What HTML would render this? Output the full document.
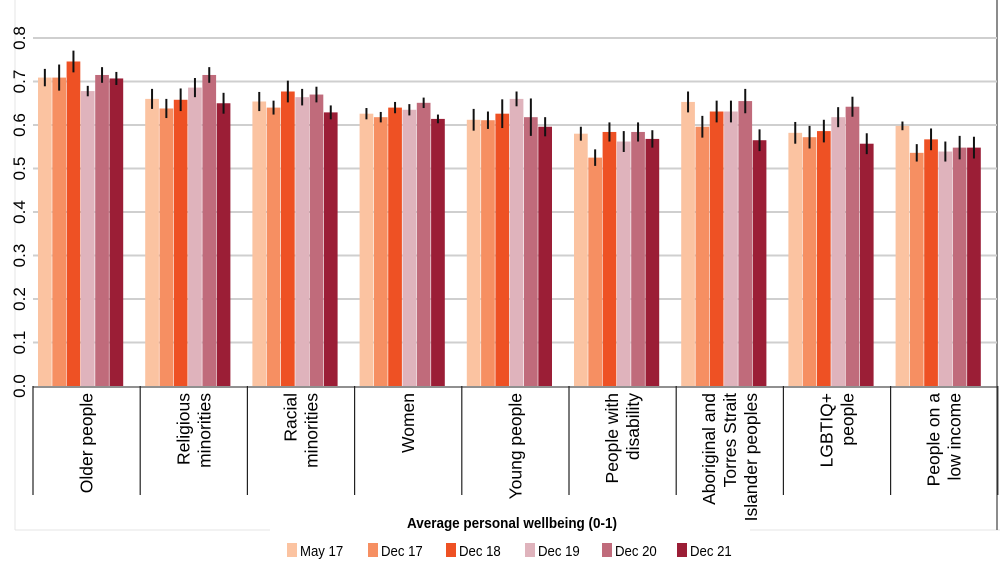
<!DOCTYPE html>
<html><head><meta charset="utf-8"><style>
html,body{margin:0;padding:0;background:#fff;}
svg{display:block;font-family:"Liberation Sans",Arial,sans-serif;}
</style></head><body>
<svg id="chart" width="1000" height="585" viewBox="0 0 1000 585">
<line x1="15" y1="0" x2="15" y2="530" stroke="#e4e4e4"/>
<line x1="15" y1="530" x2="270" y2="530" stroke="#e4e4e4"/>
<line x1="750" y1="530" x2="1000" y2="530" stroke="#e4e4e4"/>
<line x1="997" y1="0" x2="997" y2="530" stroke="#666" stroke-width="1.5"/>
<g id="grid"></g>
<g id="yticks"></g>
<g id="bars"></g>
<g id="xcats"></g>
<text x="512" y="528" text-anchor="middle" font-size="15" font-weight="bold" transform="translate(512,0) scale(0.9,1) translate(-512,0)">Average personal wellbeing (0-1)</text>
<g id="legend"></g>
</svg>
<script>
const categories=[["Older people"],["Religious","minorities"],["Racial","minorities"],["Women"],["Young people"],["People with","disability"],["Aboriginal and","Torres Strait","Islander peoples"],["LGBTIQ+","people"],["People on a","low income"]];
const seriesNames=["May 17","Dec 17","Dec 18","Dec 19","Dec 20","Dec 21"];
const colors=["#fbc3a1","#f68f62","#ee5124","#dfb3bc","#c06b7b","#9b1e36"];
const may17=[0.709,0.660,0.654,0.626,0.612,0.580,0.653,0.582,0.598];
const dec17=[0.709,0.638,0.640,0.618,0.611,0.525,0.596,0.572,0.536];
const dec18=[0.746,0.658,0.677,0.640,0.626,0.584,0.631,0.586,0.567];
const dec19=[0.678,0.686,0.664,0.635,0.660,0.562,0.631,0.618,0.539];
const dec20=[0.715,0.715,0.670,0.651,0.618,0.584,0.655,0.642,0.548];
const dec21=[0.707,0.650,0.629,0.614,0.596,0.568,0.565,0.557,0.548];
const errMay17=[0.02,0.023,0.022,0.013,0.025,0.016,0.024,0.025,0.01];
const errDec17=[0.03,0.022,0.016,0.012,0.02,0.019,0.025,0.026,0.02];
const errDec18=[0.025,0.026,0.025,0.013,0.033,0.022,0.025,0.026,0.025];
const errDec19=[0.012,0.022,0.019,0.013,0.017,0.024,0.025,0.023,0.023];
const errDec20=[0.018,0.018,0.018,0.012,0.043,0.022,0.028,0.023,0.027];
const errDec21=[0.015,0.024,0.016,0.01,0.022,0.02,0.025,0.024,0.025];
const yTicks=["0.0","0.1","0.2","0.3","0.4","0.5","0.6","0.7","0.8"];
const series=[may17,dec17,dec18,dec19,dec20,dec21];
const errs=[errMay17,errDec17,errDec18,errDec19,errDec20,errDec21];
const NS="http://www.w3.org/2000/svg";
const X0=33,GW=107.2,Y0=386,PPU=435;
const yScale=v=>Y0-v*PPU;
const xGroup=i=>X0+i*GW;
function mk(tag,attrs,parent){const e=document.createElementNS(NS,tag);for(const k in attrs)e.setAttribute(k,attrs[k]);parent.appendChild(e);return e;}
const grid=document.getElementById('grid'),yt=document.getElementById('yticks');
yTicks.forEach(t=>{const v=parseFloat(t),y=yScale(v);
 if(v>0){const l=mk('line',{x1:X0,x2:997,y1:y,y2:y,stroke:'#cfcfcf','stroke-width':2},grid);
 
 }
 const tx=mk('text',{x:0,y:0,transform:`translate(25,${y}) rotate(-90)`,'text-anchor':'middle','font-size':17},yt);
 tx.textContent=t;
 
 
});
const bars=document.getElementById('bars');
const BW=14.3,OFF=5;
categories.forEach((c,i)=>{series.forEach((s,j)=>{
 const x=xGroup(i)+OFF+j*BW,v=s[i],y=yScale(v);
 const r=mk('rect',{x:x,y:y,width:BW-0.6,height:Y0-y,fill:colors[j]},bars);
 
 
 const e=errs[j][i];
 const l=mk('line',{x1:x+BW/2-0.3,x2:x+BW/2-0.3,y1:yScale(v+e),y2:yScale(v-e),stroke:'#111','stroke-width':2},bars);
 
 
});});
const xc=document.getElementById('xcats');
const ax=mk('line',{x1:X0,x2:997,y1:Y0+1,y2:Y0+1,stroke:'#222','stroke-width':1},xc);


for(let i=0;i<=categories.length;i++){const x=xGroup(i);
 const l=mk('line',{x1:x,x2:x,y1:Y0,y2:495,stroke:'#222','stroke-width':1.2},xc);
 
 }
categories.forEach((lines,i)=>{const cx=xGroup(i)+GW/2,n=lines.length,lh=21;
 const t=mk('text',{x:0,y:0,transform:`translate(${cx},393) rotate(-90)`,'text-anchor':'end','font-size':17.5},xc);
 
 
 lines.forEach((ln,k)=>{const ts=mk('tspan',{x:0,y:(k-(n-1)/2)*lh+6},t);ts.textContent=ln;});
});
const lg=document.getElementById('legend');
const lx=[287,368,446,525,602,677];
seriesNames.forEach((n,j)=>{
 const g=mk('g',{},lg);
 
 
 mk('rect',{x:lx[j],y:543,width:10,height:14,fill:colors[j]},g);
 const t=mk('text',{x:lx[j]+13,y:556,'font-size':15,transform:`translate(${lx[j]+13},0) scale(0.88,1) translate(${-(lx[j]+13)},0)`},g);t.textContent=n;
});
</script>
</body></html>
